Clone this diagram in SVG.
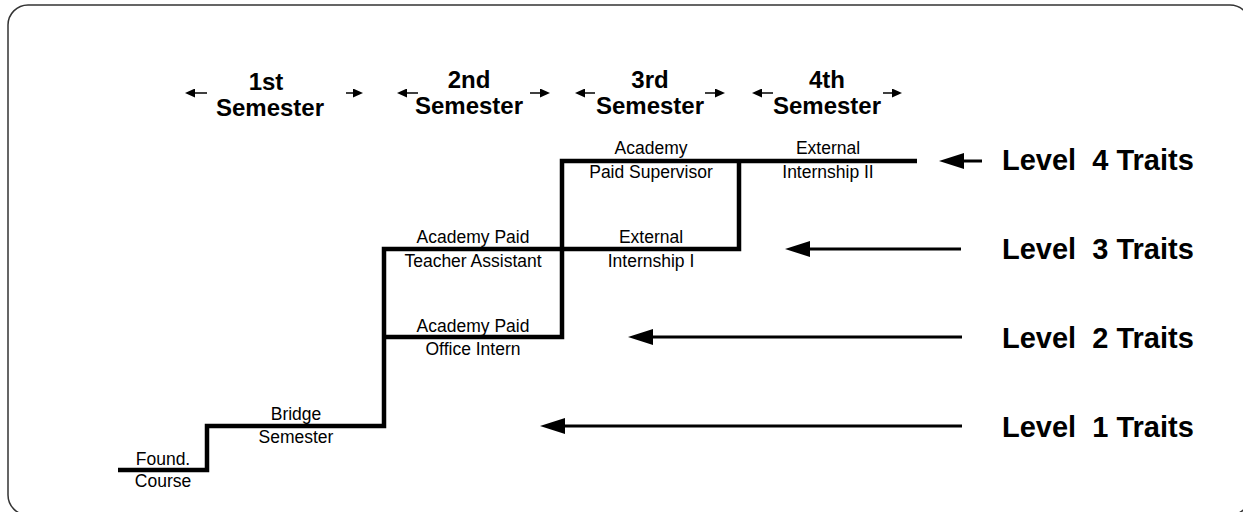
<svg xmlns="http://www.w3.org/2000/svg" width="1243" height="512" viewBox="0 0 1243 512">
<style>
.hdr{font-family:"Liberation Sans",Arial,sans-serif;font-weight:bold;font-size:24px;fill:#000;text-anchor:middle}
.lbl{font-family:"Liberation Sans",Arial,sans-serif;font-size:17.5px;fill:#000;text-anchor:middle}
.lvl{font-family:"Liberation Sans",Arial,sans-serif;font-weight:bold;font-size:29px;fill:#000;white-space:pre}
.step{fill:none;stroke:#000;stroke-width:4.5;stroke-linejoin:miter;stroke-linecap:butt}
.sarr{stroke:#000;stroke-width:1.5;fill:none}
.larr{stroke:#000;stroke-width:3;fill:none}
</style>
<defs>
<marker id="bigHead" markerUnits="userSpaceOnUse" viewBox="0 0 25 16" markerWidth="25" markerHeight="16" refX="0" refY="8" orient="auto"><path d="M0,0 L25,8 L0,16 z" fill="#000"/></marker>
<marker id="smallHead" markerUnits="userSpaceOnUse" viewBox="0 0 10 9" markerWidth="10" markerHeight="9" refX="0" refY="4.5" orient="auto"><path d="M0,0 L10,4.5 L0,9 z" fill="#000"/></marker>
</defs>
<rect x="8" y="5" width="1242" height="510" rx="20" ry="20" fill="none" stroke="#333" stroke-width="1.5"/>

<g id="headers">
<g id="sem1"><text class="hdr" x="266" y="90">1st</text><text class="hdr" x="270" y="116">Semester</text></g>
<g id="sem2"><text class="hdr" x="469" y="88">2nd</text><text class="hdr" x="469" y="114">Semester</text></g>
<g id="sem3"><text class="hdr" x="650" y="88">3rd</text><text class="hdr" x="650" y="114">Semester</text></g>
<g id="sem4"><text class="hdr" x="827" y="88">4th</text><text class="hdr" x="827" y="114">Semester</text></g>
</g>

<g id="connectors">
<g id="semester-arrows">
<line class="sarr" x1="207" y1="93" x2="195" y2="93" marker-end="url(#smallHead)"/>
<line class="sarr" x1="346" y1="93" x2="353" y2="93" marker-end="url(#smallHead)"/>
<line class="sarr" x1="418" y1="93" x2="407" y2="93" marker-end="url(#smallHead)"/>
<line class="sarr" x1="530" y1="93" x2="540" y2="93" marker-end="url(#smallHead)"/>
<line class="sarr" x1="595" y1="93" x2="585" y2="93" marker-end="url(#smallHead)"/>
<line class="sarr" x1="705" y1="93" x2="715" y2="93" marker-end="url(#smallHead)"/>
<line class="sarr" x1="773" y1="93" x2="762" y2="93" marker-end="url(#smallHead)"/>
<line class="sarr" x1="883" y1="93" x2="892" y2="93" marker-end="url(#smallHead)"/>
</g>
<g id="steps">
<path class="step" d="M118,470 H207 V426 H384 V249 H739 V161"/>
<path class="step" d="M384,337 H562 V161 H917"/>
</g>
<g id="level-arrows">
<line class="larr" x1="982" y1="161" x2="964" y2="161" marker-end="url(#bigHead)"/>
<line class="larr" x1="961" y1="249" x2="810" y2="249" marker-end="url(#bigHead)"/>
<line class="larr" x1="962" y1="337" x2="653" y2="337" marker-end="url(#bigHead)"/>
<line class="larr" x1="962" y1="426" x2="565" y2="426" marker-end="url(#bigHead)"/>
</g>
</g>

<g id="found"><text class="lbl" x="163" y="465">Found.</text><text class="lbl" x="163" y="487">Course</text></g>
<g id="bridge"><text class="lbl" x="296" y="420">Bridge</text><text class="lbl" x="296" y="443">Semester</text></g>
<g id="teacher"><text class="lbl" x="473" y="243">Academy Paid</text><text class="lbl" x="473" y="267">Teacher Assistant</text></g>
<g id="office"><text class="lbl" x="473" y="332">Academy Paid</text><text class="lbl" x="473" y="355">Office Intern</text></g>
<g id="supervisor"><text class="lbl" x="651" y="154">Academy</text><text class="lbl" x="651" y="178">Paid Supervisor</text></g>
<g id="ext1"><text class="lbl" x="651" y="243">External</text><text class="lbl" x="651" y="267">Internship I</text></g>
<g id="ext2"><text class="lbl" x="828" y="154">External</text><text class="lbl" x="828" y="178">Internship II</text></g>

<g id="level4"><text class="lvl" x="1002" y="170" xml:space="preserve">Level  4 Traits</text></g>
<g id="level3"><text class="lvl" x="1002" y="259" xml:space="preserve">Level  3 Traits</text></g>
<g id="level2"><text class="lvl" x="1002" y="348" xml:space="preserve">Level  2 Traits</text></g>
<g id="level1"><text class="lvl" x="1002" y="437" xml:space="preserve">Level  1 Traits</text></g>
</svg>
